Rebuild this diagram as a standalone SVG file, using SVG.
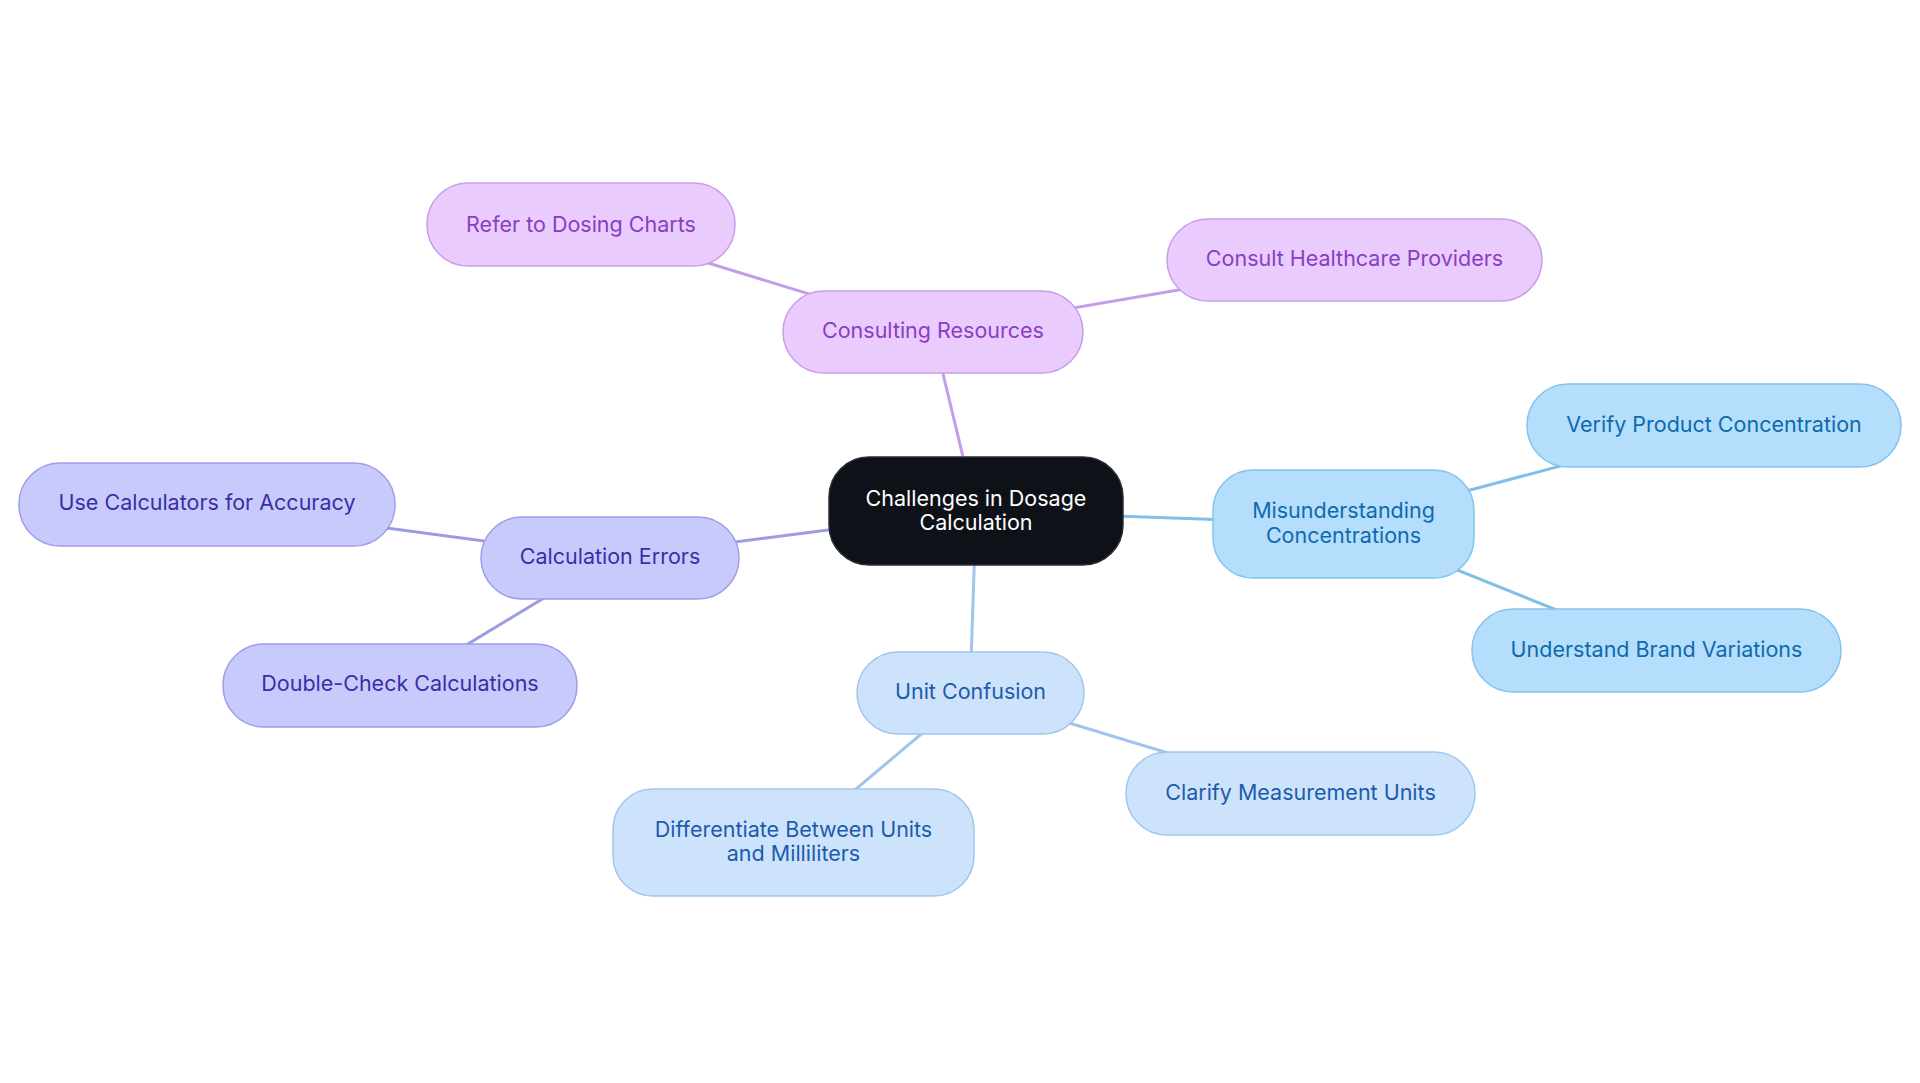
<svg xmlns="http://www.w3.org/2000/svg" width="1920" height="1083" viewBox="0 0 1920 1083">
<style>
text{font-family:Inter,"Noto Sans","Liberation Sans",sans-serif;font-size:21.5px;text-anchor:middle}
.e{stroke-width:3;fill:none}
.ep{stroke:#C49CE8}.eb{stroke:#84BEE8}.eu{stroke:#A0C4EA}.ei{stroke:#9C9CE4}
.p rect{fill:#E9CBFD;stroke:#C79DEB;stroke-width:1.5}.p text{fill:#8A3DC2}
.b rect{fill:#B4DEFB;stroke:#86C2EE;stroke-width:1.5}.b text{fill:#0E6AAE}
.u rect{fill:#CDE3FB;stroke:#A0C6EE;stroke-width:1.5}.u text{fill:#1C5BAC}
.i rect{fill:#C9CAFC;stroke:#9E9DE8;stroke-width:1.5}.i text{fill:#3A2EA6}
.c rect{fill:#0E1117;stroke:#2A2E36;stroke-width:1.5}.c text{fill:#FFFFFF}
</style>
<rect width="1920" height="1083" fill="#FFFFFF"/>
<g id="connectors">
<line class="e ep" x1="976" y1="511" x2="933" y2="332"/>
<line class="e ep" x1="933" y1="332" x2="581" y2="224"/>
<line class="e ep" x1="933" y1="332" x2="1354" y2="260"/>
<line class="e eb" x1="976" y1="511" x2="1343" y2="524"/>
<line class="e eb" x1="1343" y1="524" x2="1714" y2="425"/>
<line class="e eb" x1="1343" y1="524" x2="1656" y2="650"/>
<line class="e ei" x1="976" y1="511" x2="610" y2="558"/>
<line class="e ei" x1="610" y1="558" x2="207" y2="504"/>
<line class="e ei" x1="610" y1="558" x2="400" y2="685"/>
<line class="e eu" x1="976" y1="511" x2="970" y2="693"/>
<line class="e eu" x1="970" y1="693" x2="793" y2="842"/>
<line class="e eu" x1="970" y1="693" x2="1300" y2="793"/>
</g>
<g id="center" class="c"><rect x="829" y="457" width="294" height="108" rx="40"/><text x="976" y="506">Challenges in Dosage</text><text x="976" y="530">Calculation</text></g>
<g id="consulting" class="p"><rect x="783" y="291" width="300" height="82" rx="41"/><text x="933" y="338">Consulting Resources</text></g>
<g id="refer" class="p"><rect x="427" y="183" width="308" height="83" rx="41"/><text x="581" y="232">Refer to Dosing Charts</text></g>
<g id="consult-hp" class="p"><rect x="1167" y="219" width="375" height="82" rx="41"/><text x="1354.5" y="266">Consult Healthcare Providers</text></g>
<g id="misunderstanding" class="b"><rect x="1213" y="470" width="261" height="108" rx="40"/><text x="1343.5" y="518">Misunderstanding</text><text x="1343.5" y="543">Concentrations</text></g>
<g id="verify" class="b"><rect x="1527" y="384" width="374" height="83" rx="41"/><text x="1714" y="432">Verify Product Concentration</text></g>
<g id="understand" class="b"><rect x="1472" y="609" width="369" height="83" rx="41"/><text x="1656.5" y="657">Understand Brand Variations</text></g>
<g id="calc-errors" class="i"><rect x="481" y="517" width="258" height="82" rx="41"/><text x="610" y="564">Calculation Errors</text></g>
<g id="use-calc" class="i"><rect x="19" y="463" width="376" height="83" rx="41"/><text x="207" y="510">Use Calculators for Accuracy</text></g>
<g id="double-check" class="i"><rect x="223" y="644" width="354" height="83" rx="41"/><text x="400" y="691">Double-Check Calculations</text></g>
<g id="unit" class="u"><rect x="857" y="652" width="227" height="82" rx="41"/><text x="970.5" y="699">Unit Confusion</text></g>
<g id="differentiate" class="u"><rect x="613" y="789" width="361" height="107" rx="40"/><text x="793.5" y="837">Differentiate Between Units</text><text x="793.5" y="861">and Milliliters</text></g>
<g id="clarify" class="u"><rect x="1126" y="752" width="349" height="83" rx="41"/><text x="1300.5" y="800">Clarify Measurement Units</text></g>
</svg>
